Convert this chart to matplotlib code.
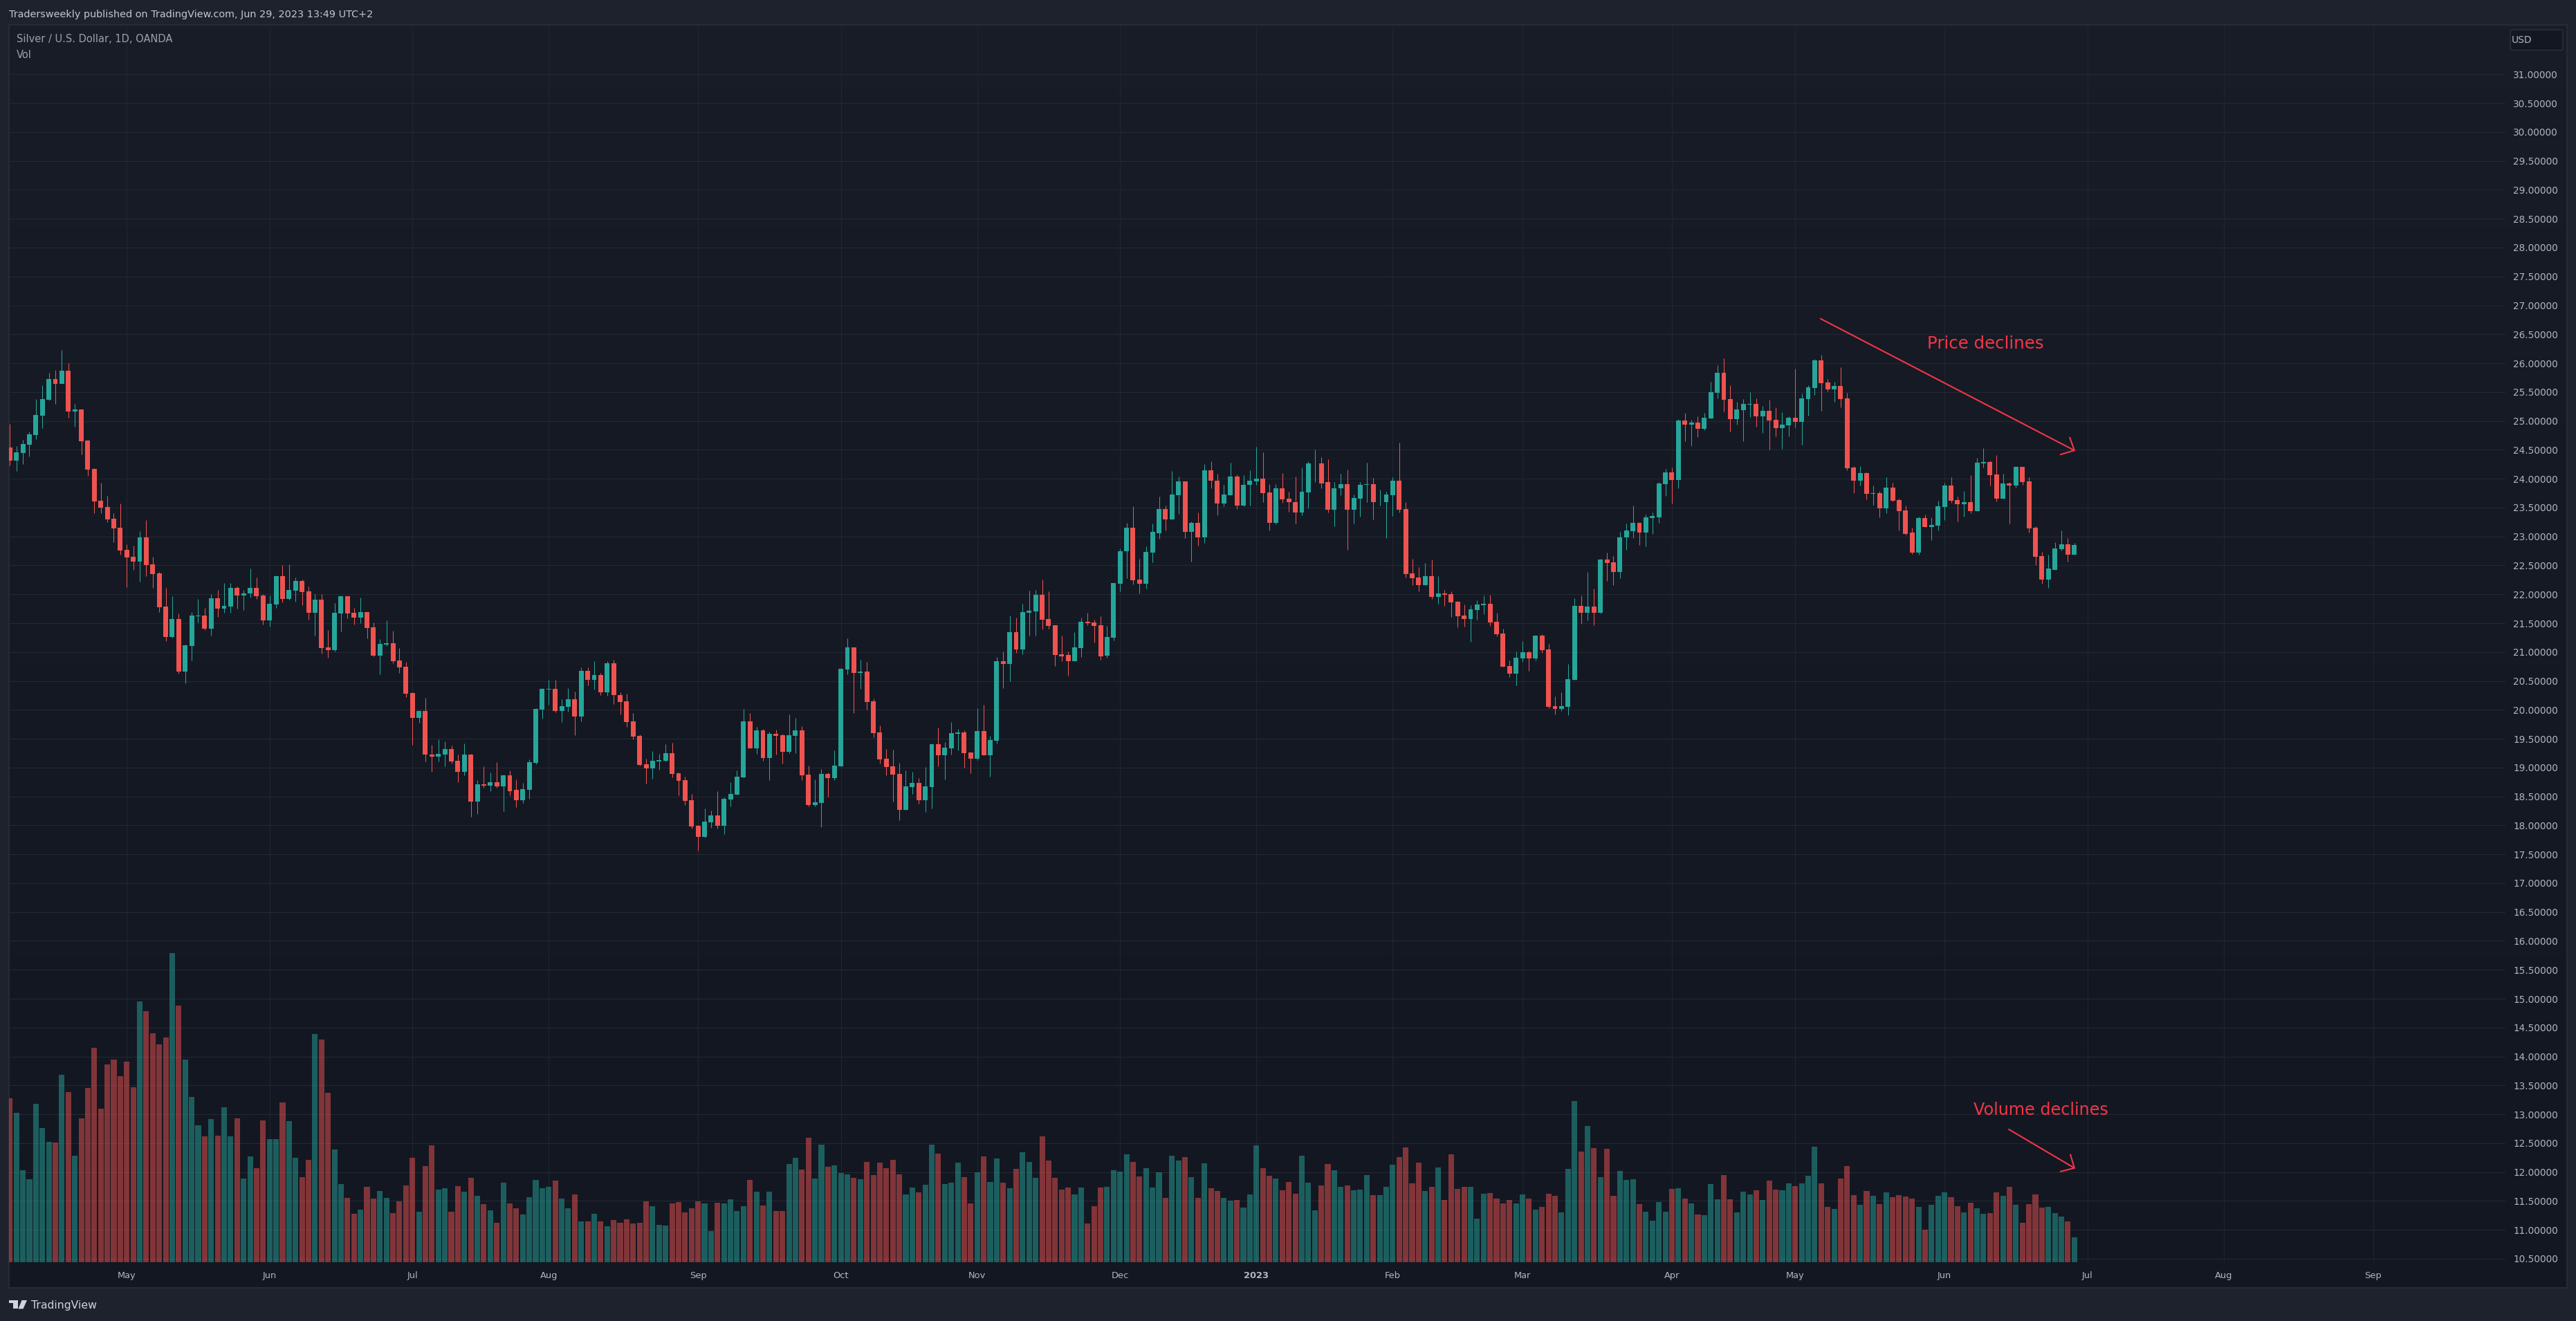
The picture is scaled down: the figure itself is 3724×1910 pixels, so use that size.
#!/usr/bin/env python3
# Silver / USD daily candles with volume, TradingView dark theme look
import numpy as np
import matplotlib
matplotlib.use('Agg')
import matplotlib.pyplot as plt
from matplotlib.patches import FancyBboxPatch, Polygon

W, H = 3724, 1910

highs = [24.95,24.57,24.67,24.81,25.38,25.62,25.83,25.88,26.23,26.00,
25.29,25.20,24.67,24.18,23.93,23.70,23.40,23.57,22.86,22.84,
23.09,23.28,22.65,22.38,22.11,21.97,21.67,21.13,21.69,21.92,
21.76,22.00,22.08,22.20,22.20,22.14,22.08,22.44,22.29,22.00,
21.98,22.33,22.50,22.52,22.29,22.26,22.14,22.00,22.00,21.38,
21.85,21.97,21.97,21.76,21.94,21.69,21.51,21.23,21.55,21.37,
21.07,20.83,20.30,19.99,20.21,19.39,19.49,19.45,19.38,19.22,
19.42,19.24,18.78,19.02,18.92,19.10,18.88,18.95,18.80,18.74,
19.14,20.03,20.37,20.52,20.52,20.18,20.38,20.31,20.74,20.74,
20.84,20.64,20.84,20.87,20.30,20.28,19.94,19.57,19.15,19.28,
19.24,19.40,19.43,18.91,18.84,18.54,18.01,18.29,18.26,18.59,
18.48,18.75,18.95,20.01,19.95,19.70,19.67,19.62,19.66,19.58,
19.92,19.86,19.72,19.03,18.79,18.97,18.91,19.30,20.72,21.24,
21.08,20.87,20.83,20.19,19.73,19.32,19.31,19.08,18.95,18.93,
18.82,19.01,19.42,19.69,19.44,19.79,19.67,19.64,19.26,20.03,
20.09,19.55,20.91,21.01,21.63,21.60,21.83,22.06,22.08,22.25,
22.05,21.47,21.29,21.01,21.34,21.60,21.68,21.56,21.62,21.45,
22.20,22.79,23.23,23.52,22.61,22.83,23.22,23.69,23.53,24.13,
24.04,23.95,23.26,23.41,24.25,24.30,24.09,23.90,24.28,24.07,
24.06,24.15,24.55,24.46,23.91,23.91,24.10,23.77,24.04,24.19,
24.30,24.51,24.37,24.34,23.94,24.08,24.16,23.73,23.94,24.28,
24.01,23.81,23.77,24.03,24.63,23.60,22.61,22.47,22.54,22.60,
22.31,22.08,22.05,21.88,21.82,21.81,21.90,21.98,21.99,21.68,
21.40,20.85,21.01,21.19,21.02,21.28,21.31,21.14,20.23,20.30,
20.79,21.93,21.98,22.38,22.10,22.61,22.72,22.66,23.08,23.22,
23.53,23.25,23.38,23.41,23.94,24.17,24.19,25.03,25.14,25.02,
25.08,25.14,25.68,25.97,26.09,25.62,25.33,25.38,25.50,25.39,
25.26,25.37,25.23,25.15,25.08,25.91,25.48,25.62,26.07,26.15,
25.73,25.68,25.93,25.49,24.22,24.22,24.11,23.88,23.79,24.03,
23.93,23.65,23.53,23.15,23.34,23.38,23.33,23.62,23.93,24.03,
23.69,23.79,24.06,24.36,24.53,24.31,24.41,24.08,23.94,24.22,
24.20,24.03,23.17,22.73,22.68,22.90,23.10,22.97,22.89]

lows = [24.23,24.13,24.25,24.38,24.68,24.88,25.35,25.29,25.64,25.06,
24.90,24.42,24.05,23.40,23.40,23.25,22.90,22.68,22.12,22.42,
22.22,22.32,22.11,21.69,21.19,21.25,20.63,20.46,20.85,21.51,
21.38,21.29,21.61,21.68,21.68,21.75,21.73,21.94,21.92,21.48,
21.44,21.76,21.86,21.91,21.87,21.81,21.56,21.29,20.97,20.90,
21.01,21.36,21.58,21.48,21.50,21.24,20.93,20.61,21.11,20.81,
20.64,20.22,19.39,19.78,19.11,18.93,19.11,19.02,19.07,18.75,
18.87,18.15,18.20,18.65,18.59,18.65,18.25,18.52,18.32,18.39,
18.46,19.06,19.85,20.09,19.96,19.79,19.97,19.56,19.80,20.42,
20.35,20.25,20.24,20.10,19.92,19.70,19.49,19.03,18.72,18.81,
18.96,19.11,18.83,18.52,18.35,17.95,17.56,17.79,17.96,17.95,
17.85,18.33,18.53,18.83,19.33,19.24,19.12,18.78,19.22,19.07,
19.25,19.25,18.78,18.33,18.33,17.97,18.50,18.78,19.02,20.61,
19.94,20.36,20.00,19.52,19.07,18.87,18.41,18.09,18.27,18.54,
18.38,18.23,18.29,19.02,18.79,19.22,19.30,19.00,18.90,19.13,
19.21,18.84,19.42,20.38,20.49,20.99,20.96,21.28,21.29,21.39,
21.40,20.76,20.84,20.59,20.84,20.91,21.46,21.16,20.87,20.90,
21.20,22.05,22.28,22.17,22.02,22.10,22.55,22.96,23.11,23.29,
23.39,22.97,22.56,22.84,22.89,23.83,23.37,23.52,23.72,23.47,
23.52,23.53,23.89,23.59,23.11,23.21,23.58,23.43,23.22,23.37,
23.49,23.94,23.83,23.42,23.17,23.71,22.77,23.22,23.34,23.60,
23.30,23.54,22.97,23.36,23.42,22.29,22.16,22.05,22.16,21.92,
21.83,21.80,21.61,21.43,21.44,21.18,21.56,21.65,21.45,21.27,
20.75,20.57,20.42,20.83,20.67,20.85,20.98,20.03,19.92,19.98,
19.91,20.52,21.49,21.55,21.47,21.67,22.23,22.16,22.28,22.77,
22.97,22.85,22.83,23.05,23.23,23.70,23.57,23.83,24.65,24.56,
24.72,24.84,25.04,25.39,25.16,24.82,24.94,24.65,25.07,24.90,
24.79,24.50,24.73,24.52,24.73,24.89,24.59,25.09,25.45,25.17,
25.51,25.33,25.23,24.14,23.75,23.88,23.64,23.55,23.33,23.40,
23.61,23.11,23.03,22.70,22.68,23.16,22.94,23.10,23.28,23.58,
23.26,23.34,23.40,23.44,24.19,23.88,23.61,23.65,23.22,23.85,
23.89,23.07,22.50,22.18,22.11,22.42,22.76,22.56,22.68]

opens = [24.54,24.31,24.44,24.59,24.76,25.09,25.37,25.73,25.64,25.87,
25.16,25.20,24.66,24.17,23.62,23.51,23.31,23.15,22.77,22.65,
22.56,22.98,22.52,22.36,21.79,21.26,21.57,20.66,21.11,21.62,
21.63,21.41,21.93,21.75,21.79,22.11,21.98,22.02,22.11,21.98,
21.55,21.82,22.32,21.92,22.06,22.23,22.05,21.68,21.91,21.08,
21.03,21.67,21.97,21.68,21.60,21.69,21.43,20.94,21.13,21.15,
20.85,20.75,20.29,19.86,19.98,19.23,19.19,19.23,19.32,19.12,
18.93,19.22,18.41,18.71,18.69,18.75,18.68,18.87,18.61,18.43,
18.62,19.08,20.00,20.35,20.36,19.98,20.05,20.18,19.89,20.68,
20.52,20.60,20.30,20.81,20.26,20.15,19.80,19.55,19.06,18.99,
19.11,19.12,19.25,18.90,18.78,18.44,17.99,17.80,18.05,18.17,
17.99,18.45,18.53,18.83,19.80,19.33,19.64,19.17,19.58,19.56,
19.27,19.55,19.64,18.88,18.35,18.39,18.89,18.82,19.02,20.70,
21.08,20.64,20.66,20.15,19.61,19.15,19.02,18.89,18.27,18.66,
18.74,18.44,18.66,19.40,19.21,19.33,19.58,19.61,19.26,19.15,
19.63,19.21,19.46,20.84,20.79,21.35,21.04,21.68,21.70,21.99,
21.57,21.46,20.96,20.95,20.84,21.07,21.53,21.51,21.46,20.94,
21.25,22.18,22.74,23.15,22.25,22.18,22.72,23.06,23.47,23.30,
23.72,23.95,23.08,23.23,22.98,24.15,23.97,23.57,23.72,24.04,
23.53,23.89,23.95,24.00,23.76,23.23,23.84,23.65,23.60,23.41,
23.76,24.26,24.27,23.94,23.46,23.83,23.91,23.46,23.66,23.89,
23.91,23.59,23.59,23.72,23.97,23.47,22.36,22.29,22.16,22.32,
21.96,22.01,22.00,21.87,21.63,21.57,21.73,21.81,21.83,21.52,
21.32,20.76,20.63,20.89,21.00,20.89,21.28,21.04,20.06,20.02,
20.05,20.52,21.80,21.68,21.79,21.68,22.60,22.55,22.38,22.98,
23.09,23.23,23.07,23.32,23.33,23.91,24.11,23.98,25.01,24.94,
24.97,24.86,25.04,25.49,25.83,25.38,25.03,25.19,25.28,25.29,
25.08,25.17,25.02,24.88,24.92,25.06,24.98,25.38,25.57,26.05,
25.67,25.55,25.61,25.39,24.19,23.97,24.10,23.74,23.75,23.49,
23.85,23.63,23.45,23.07,22.72,23.32,23.16,23.19,23.51,23.88,
23.63,23.56,23.59,23.44,24.26,24.29,24.07,23.65,23.92,23.88,
24.20,23.95,23.15,22.66,22.26,22.42,22.78,22.86,22.68]

closes = [24.31,24.46,24.60,24.77,25.10,25.38,25.73,25.64,25.87,25.16,
25.20,24.65,24.16,23.61,23.50,23.29,23.14,22.76,22.64,22.56,
22.98,22.50,22.35,21.78,21.26,21.57,20.66,21.12,21.63,21.63,
21.41,21.93,21.75,21.80,22.11,21.98,22.02,22.11,21.97,21.55,
21.84,22.32,21.92,22.08,22.23,22.04,21.68,21.91,21.07,21.03,
21.68,21.97,21.67,21.60,21.69,21.42,20.94,21.14,21.15,20.84,
20.73,20.28,19.86,19.98,19.22,19.19,19.24,19.32,19.11,18.93,
19.22,18.41,18.71,18.69,18.75,18.68,18.87,18.59,18.43,18.63,
19.10,20.02,20.36,20.36,19.98,20.06,20.18,19.89,20.68,20.52,
20.60,20.30,20.81,20.25,20.13,19.79,19.54,19.05,18.99,19.12,
19.13,19.25,18.89,18.77,18.42,17.98,17.80,18.07,18.17,17.99,
18.46,18.54,18.84,19.80,19.33,19.64,19.17,19.58,19.55,19.27,
19.56,19.64,18.87,18.35,18.40,18.89,18.82,19.03,20.71,21.08,
20.64,20.66,20.13,19.60,19.14,19.01,18.88,18.27,18.68,18.74,
18.44,18.68,19.40,19.21,19.34,19.60,19.61,19.25,19.15,19.63,
19.21,19.48,20.84,20.79,21.35,21.04,21.69,21.71,21.99,21.56,
21.45,20.95,20.93,20.84,21.08,21.53,21.50,21.45,20.93,21.26,
22.19,22.75,23.15,22.24,22.18,22.73,23.08,23.47,23.30,23.73,
23.95,23.08,23.23,22.98,24.15,23.96,23.57,23.73,24.04,23.53,
23.90,23.96,24.00,23.75,23.23,23.84,23.64,23.59,23.41,23.77,
24.27,24.27,23.92,23.46,23.84,23.91,23.46,23.67,23.90,23.91,
23.59,23.60,23.73,23.97,23.46,22.35,22.28,22.16,22.32,21.96,
22.01,21.99,21.86,21.62,21.57,21.74,21.82,21.83,21.51,21.31,
20.75,20.63,20.90,21.00,20.89,21.28,21.03,20.05,20.02,20.06,
20.53,21.80,21.68,21.79,21.68,22.60,22.54,22.38,22.99,23.10,
23.23,23.07,23.33,23.35,23.92,24.11,23.98,25.01,24.94,24.97,
24.86,25.06,25.50,25.83,25.37,25.03,25.20,25.29,25.29,25.08,
25.17,25.01,24.88,24.94,25.06,24.98,25.39,25.58,26.05,25.65,
25.55,25.61,25.38,24.18,23.97,24.10,23.74,23.75,23.49,23.85,
23.62,23.44,23.05,22.72,23.32,23.16,23.20,23.52,23.88,23.62,
23.56,23.59,23.44,24.28,24.29,24.06,23.65,23.92,23.88,24.20,
23.94,23.14,22.65,22.26,22.44,22.79,22.86,22.68,22.85]

# volume has no scale in the picture, values are read as relative heights
volumes = [237,216,133,120,229,194,174,173,271,246,
154,208,252,310,222,286,293,269,290,253,
377,363,331,315,325,447,371,293,239,198,
182,207,183,224,182,208,121,153,136,205,
178,178,231,204,151,123,148,330,322,245,
163,113,93,70,76,109,92,103,93,71,
88,111,151,73,139,169,105,107,73,110,
102,122,96,84,75,57,115,85,78,69,
94,119,107,109,118,92,78,98,59,59,
70,59,52,61,57,62,56,57,88,81,
54,53,85,87,72,78,88,85,45,86,
85,91,74,81,119,102,82,102,74,74,
142,151,134,180,121,170,138,140,129,127,
122,120,145,126,144,136,148,127,98,108,
101,112,170,157,113,115,144,123,85,130,
153,116,150,115,107,135,159,145,122,182,
147,122,105,108,98,108,56,81,108,109,
133,131,156,145,124,136,108,130,93,154,
147,152,123,93,143,107,103,93,89,90,
79,98,169,136,125,121,104,116,99,154,
115,75,111,142,133,109,111,104,105,126,
97,97,109,141,152,166,114,144,103,109,
137,90,156,106,109,109,63,99,100,92,
85,90,85,98,92,76,80,99,96,72,
135,233,160,197,165,123,164,96,132,119,
120,84,73,60,87,73,106,107,92,85,
69,68,113,91,126,91,72,102,98,104,
90,118,105,104,114,110,114,125,167,114,
80,77,121,139,97,83,103,96,84,101,
94,97,95,92,80,47,83,96,101,94,
81,72,86,78,70,71,101,96,109,83,
57,84,98,79,80,71,66,59,36]

month_pos = [18, 40, 62, 83, 106, 128, 149, 171, 192, 213, 233, 256, 275, 298, 320, 341, 364]
month_labels = ['May', 'Jun', 'Jul', 'Aug', 'Sep', 'Oct', 'Nov', 'Dec', '2023',
                'Feb', 'Mar', 'Apr', 'May', 'Jun', 'Jul', 'Aug', 'Sep']
price_ticks = np.arange(10.5, 31.5, 0.5)

# annotation arrows: index / price pairs
price_arrow_x = [278.9, 318.0]
price_arrow_y = [26.77, 24.49]
price_head_x = [317.3, 318.0, 315.9]
price_head_y = [24.71, 24.49, 24.42]
vol_arrow_x = [307.9, 318.0]
vol_arrow_y = [12.74, 12.07]
vol_head_x = [317.4, 318.0, 315.9]
vol_head_y = [12.30, 12.07, 12.01]

UP = '#26a69a'
DOWN = '#ef5350'
RED = '#f23645'
OUTER = '#1e222d'
GRID_H = '#252934'
GRID_V = '#21252f'
LABEL = '#b2b5be'
LEGEND = '#9da0a8'


def fx(x):
    return x / W


def fy(y):
    return 1 - y / H


def axes_px(l, t, r, b):
    return [fx(l), fy(b), (r - l) / W, (b - t) / H]


plt.rcParams['font.family'] = ['DejaVu Sans']
fig = plt.figure(figsize=(W / 100, H / 100), dpi=100, facecolor=OUTER)

# pane background with the soft vertical gradient
bg = fig.add_axes(axes_px(13, 36, 3711, 1862))
grad = np.linspace(0, 1, 256).reshape(-1, 1, 1)
top_c = np.array([0x19, 0x1d, 0x28]) / 255
bot_c = np.array([0x13, 0x17, 0x22]) / 255
bg.imshow(top_c + (bot_c - top_c) * grad ** 0.6, aspect='auto', extent=[0, 1, 0, 1])
bg.set_xticks([])
bg.set_yticks([])
for s in bg.spines.values():
    s.set_color('#2a2e39')
    s.set_linewidth(1.2)

# price pane
ax = fig.add_axes(axes_px(13, 36, 3622, 1825))
ax.patch.set_visible(False)
ax.set_xlim(-0.14, 384.4)
ax.set_ylim(10.44, 31.854)
for s in ax.spines.values():
    s.set_visible(False)

ax.set_axisbelow(True)
ax.yaxis.tick_right()
ax.set_yticks(price_ticks)
ax.set_yticklabels(['%.5f' % p for p in price_ticks], color=LABEL, fontsize=9.8)
ax.set_xticks(month_pos)
ax.set_xticklabels(month_labels, color=LABEL, fontsize=9.4)
for lab in ax.get_xticklabels():
    if lab.get_text() == '2023':
        lab.set_fontweight('bold')
ax.tick_params(axis='both', length=0)
ax.tick_params(axis='y', pad=8)
ax.tick_params(axis='x', pad=9)
ax.grid(axis='y', color=GRID_H, lw=0.75)
ax.grid(axis='x', color=GRID_V, lw=0.75)

idx = np.arange(len(opens))
o = np.array(opens)
c = np.array(closes)
is_up = c >= o
cols = [UP if u else DOWN for u in is_up]

# volume sits in its own axes with the same x range
ax_vol = fig.add_axes(axes_px(13, 36, 3622, 1825), sharex=ax)
ax_vol.patch.set_visible(False)
ax_vol.set_ylim(0, 1789)
ax_vol.axis('off')
ax_vol.bar(idx, volumes, width=0.86, color=cols, alpha=0.5, linewidth=0)

# candles on top of everything
ax_top = fig.add_axes(axes_px(13, 36, 3622, 1825), sharex=ax, sharey=ax)
ax_top.patch.set_visible(False)
ax_top.axis('off')
ax_top.vlines(idx, lows, highs, colors=cols, linewidth=0.75)
ax_top.bar(idx, np.abs(c - o), bottom=np.minimum(o, c), width=0.74, color=cols, linewidth=0)

# drawings
ax_top.plot(price_arrow_x, price_arrow_y, color=RED, lw=1.5, solid_capstyle='round')
ax_top.plot(price_head_x, price_head_y, color=RED, lw=1.5)
ax_top.plot(vol_arrow_x, vol_arrow_y, color=RED, lw=1.5, solid_capstyle='round')
ax_top.plot(vol_head_x, vol_head_y, color=RED, lw=1.5)
ax_top.text(304.3, 26.33, 'Price declines', color=RED, fontsize=17.6, ha='center', va='center')
ax_top.text(312.8, 13.07, 'Volume declines', color=RED, fontsize=17.2, ha='center', va='center')

# header and legend text
fig.text(fx(13), fy(20.7), 'Tradersweekly published on TradingView.com, Jun 29, 2023 13:49 UTC+2',
         color='#c3c6ce', fontsize=10.4, va='center')
fig.text(fx(24), fy(56.7), 'Silver / U.S. Dollar, 1D, OANDA', color=LEGEND, fontsize=10.5, va='center')
fig.text(fx(24), fy(79), 'Vol', color=LEGEND, fontsize=10.5, va='center')

# currency box
box = FancyBboxPatch((fx(3629), fy(72.5)), (3705 - 3629) / W, 29.5 / H,
                     boxstyle='round,pad=0,rounding_size=0.001', transform=fig.transFigure,
                     facecolor='#131722', edgecolor='#2a2e39', lw=1.2)
fig.add_artist(box)
fig.text(fx(3631), fy(58), 'USD', color=LABEL, fontsize=10.0, va='center')

# footer logo and name
LOGO = '#d1d4dc'
fig.add_artist(Polygon([(fx(13), fy(1880)), (fx(25.5), fy(1880)), (fx(25.5), fy(1892.4)),
                        (fx(19.4), fy(1892.4)), (fx(19.4), fy(1884)), (fx(13), fy(1884))],
                       closed=True, transform=fig.transFigure, facecolor=LOGO, edgecolor='none'))
fig.add_artist(Polygon([(fx(31.5), fy(1880)), (fx(39), fy(1880)), (fx(33.5), fy(1892.4)),
                        (fx(26.5), fy(1892.4))],
                       closed=True, transform=fig.transFigure, facecolor=LOGO, edgecolor='none'))
fig.text(fx(45), fy(1887), 'TradingView', color=LOGO, fontsize=11.3, va='center')

fig.savefig('out.png', dpi=100, facecolor=OUTER)
